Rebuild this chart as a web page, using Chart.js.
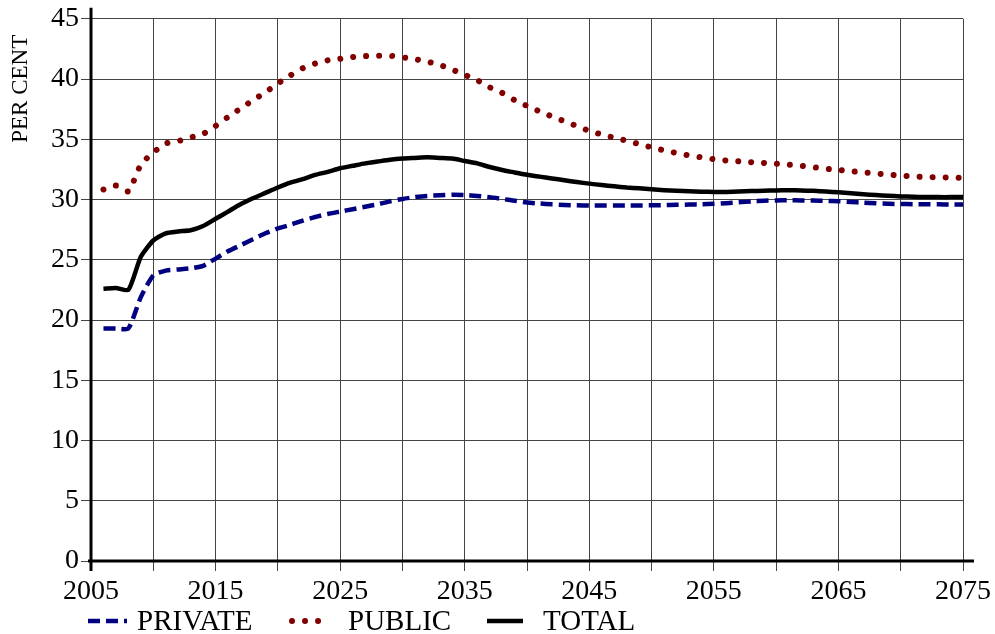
<!DOCTYPE html>
<html>
<head>
<meta charset="utf-8">
<title>Pension coverage, per cent</title>
<script src="https://cdn.jsdelivr.net/npm/chart.js@4.4.1/dist/chart.umd.min.js"></script>
<style>
  html, body { margin: 0; padding: 0; background: #ffffff; }
  #wrap { width: 995px; height: 634px; position: relative; }
</style>
</head>
<body>
<div id="wrap"><canvas id="c" width="995" height="634"></canvas></div>
<script>
// Projection years (annual)
const years = [
  2006, 2007, 2008, 2009, 2010, 2011, 2012, 2013, 2014, 2015,
  2016, 2017, 2018, 2019, 2020, 2021, 2022, 2023, 2024, 2025,
  2026, 2027, 2028, 2029, 2030, 2031, 2032, 2033, 2034, 2035,
  2036, 2037, 2038, 2039, 2040, 2041, 2042, 2043, 2044, 2045,
  2046, 2047, 2048, 2049, 2050, 2051, 2052, 2053, 2054, 2055,
  2056, 2057, 2058, 2059, 2060, 2061, 2062, 2063, 2064, 2065,
  2066, 2067, 2068, 2069, 2070, 2071, 2072, 2073, 2074, 2075
];

// Per cent values by series
const privateShare = [
  19.3, 19.3, 19.3, 21.9, 23.7, 24.1, 24.2, 24.3, 24.5, 25.1,
  25.7, 26.2, 26.7, 27.2, 27.6, 27.9, 28.25, 28.55, 28.8, 29.0,
  29.2, 29.4, 29.6, 29.85, 30.05, 30.2, 30.3, 30.35, 30.4, 30.38,
  30.3, 30.2, 30.05, 29.9, 29.75, 29.67, 29.6, 29.55, 29.52, 29.5,
  29.5, 29.5, 29.5, 29.51, 29.52, 29.54, 29.56, 29.58, 29.61, 29.64,
  29.7, 29.77, 29.84, 29.9, 29.93, 29.94, 29.93, 29.92, 29.89, 29.86,
  29.8, 29.74, 29.69, 29.65, 29.63, 29.61, 29.6, 29.6, 29.59, 29.59
];

const publicShare = [
  30.83, 31.16, 30.69, 32.9, 33.9, 34.65, 34.85, 35.15, 35.45, 36.1,
  36.85, 37.55, 38.24, 38.9, 39.63, 40.3, 40.9, 41.29, 41.55, 41.68,
  41.82, 41.9, 41.94, 41.93, 41.8, 41.65, 41.44, 41.17, 40.78, 40.35,
  39.9, 39.32, 38.85, 38.25, 37.77, 37.32, 36.9, 36.5, 36.1, 35.7,
  35.4, 35.13, 34.88, 34.6, 34.33, 34.08, 33.86, 33.66, 33.5, 33.35,
  33.24, 33.17, 33.1, 33.04, 32.97, 32.89, 32.8, 32.68, 32.55, 32.45,
  32.35, 32.25, 32.17, 32.06, 31.99, 31.92, 31.87, 31.85, 31.82, 31.8
];

const totalShare = [
  22.6, 22.66, 22.5, 25.25, 26.6, 27.2, 27.35, 27.45, 27.8, 28.4,
  29.0, 29.6, 30.1, 30.55, 31.0, 31.4, 31.7, 32.05, 32.3, 32.6,
  32.8, 33.0, 33.15, 33.3, 33.4, 33.45, 33.5, 33.45, 33.4, 33.2,
  33.0, 32.7, 32.45, 32.25, 32.05, 31.9, 31.75, 31.6, 31.45, 31.32,
  31.2, 31.1, 31.0, 30.93, 30.85, 30.78, 30.72, 30.68, 30.65, 30.63,
  30.63, 30.66, 30.7, 30.73, 30.76, 30.77, 30.75, 30.72, 30.66, 30.6,
  30.52, 30.44, 30.37, 30.31, 30.26, 30.23, 30.21, 30.2, 30.2, 30.2
];

const seriesNames = ['PRIVATE', 'PUBLIC', 'TOTAL'];
const yAxisTitle = 'PER CENT';
const xMin = 2005, xMax = 2075, xStep = 5, xLabelEvery = 10;
const yMin = 0, yMax = 45, yStep = 5;

const SERIF = '"Liberation Serif", "Times New Roman", Times, serif';

const toPoints = vals => years.map((yr, i) => ({ x: yr, y: vals[i] }));

// Axis lines that run a little past the plot frame, the rotated unit label
// and a hand-laid legend strip under the year labels.
const decorations = {
  id: 'decorations',
  afterDatasetsDraw(chart) {
    const ctx = chart.ctx;
    const a = chart.chartArea;
    ctx.save();
    ctx.strokeStyle = '#000';
    ctx.lineWidth = 3;
    ctx.setLineDash([]);
    ctx.beginPath();
    ctx.moveTo(a.left, a.top - 11);
    ctx.lineTo(a.left, a.bottom + 10);
    ctx.stroke();
    ctx.beginPath();
    ctx.moveTo(a.left - 3, a.bottom);
    ctx.lineTo(a.right + 11, a.bottom);
    ctx.stroke();
    ctx.restore();
  },
  afterDraw(chart) {
    const ctx = chart.ctx;
    const a = chart.chartArea;

    // unit label
    ctx.save();
    ctx.fillStyle = '#000';
    ctx.font = '23px ' + SERIF;
    ctx.textAlign = 'center';
    ctx.textBaseline = 'middle';
    ctx.translate(21, a.top + 70);
    ctx.rotate(-Math.PI / 2);
    ctx.fillText(yAxisTitle, 0, 0);
    ctx.restore();

    // legend
    const ly = a.bottom + 60;
    const layout = [
      { from: a.left - 3, to: a.left + 36, text: a.left + 46 },
      { from: a.left + 201, to: a.left + 230, text: a.left + 257 },
      { from: a.left + 396, to: a.left + 432, text: a.left + 452 }
    ];
    chart.data.datasets.forEach((ds, i) => {
      const L = layout[i];
      ctx.save();
      ctx.strokeStyle = ds.borderColor;
      ctx.lineWidth = ds.borderWidth;
      ctx.lineCap = ds.borderCapStyle || 'butt';
      ctx.setLineDash(ds.borderDash || []);
      ctx.beginPath();
      ctx.moveTo(L.from, ly);
      ctx.lineTo(L.to, ly);
      ctx.stroke();
      ctx.restore();

      ctx.save();
      ctx.fillStyle = '#000';
      ctx.font = '29px ' + SERIF;
      ctx.textAlign = 'left';
      ctx.textBaseline = 'middle';
      ctx.fillText(ds.label, L.text, ly + 1);
      ctx.restore();
    });
  }
};

new Chart(document.getElementById('c'), {
  type: 'line',
  data: {
    datasets: [
      {
        label: seriesNames[0],
        data: toPoints(privateShare),
        borderColor: '#000080',
        borderWidth: 4.5,
        borderDash: [12, 6],
        borderCapStyle: 'butt',
        pointRadius: 0,
        tension: 0.2,
        fill: false
      },
      {
        label: seriesNames[1],
        data: toPoints(publicShare),
        borderColor: '#800000',
        borderWidth: 6,
        borderDash: [0.01, 13],
        borderCapStyle: 'round',
        pointRadius: 0,
        tension: 0.2,
        fill: false
      },
      {
        label: seriesNames[2],
        data: toPoints(totalShare),
        borderColor: '#000000',
        borderWidth: 4.5,
        borderCapStyle: 'butt',
        pointRadius: 0,
        tension: 0.2,
        fill: false
      }
    ]
  },
  options: {
    responsive: false,
    animation: false,
    devicePixelRatio: 1,
    layout: { padding: { left: 0, right: 32, top: 17, bottom: 0 } },
    plugins: {
      legend: { display: false },
      tooltip: { enabled: false },
      title: { display: false }
    },
    scales: {
      x: {
        type: 'linear',
        min: xMin,
        max: xMax,
        border: { display: false },
        grid: { color: '#444', lineWidth: 1, tickLength: 10, drawTicks: true },
        ticks: {
          stepSize: xStep,
          autoSkip: false,
          maxRotation: 0,
          padding: 4,
          color: '#000',
          font: { family: SERIF, size: 28 },
          callback: v => ((v - xMin) % xLabelEvery === 0 ? String(v) : '')
        },
        afterFit: s => { s.height = 73; }
      },
      y: {
        min: yMin,
        max: yMax,
        border: { display: false },
        grid: { color: '#444', lineWidth: 1, tickLength: 10, drawTicks: true },
        ticks: {
          stepSize: yStep,
          padding: 2,
          color: '#000',
          font: { family: SERIF, size: 28 }
        },
        afterFit: s => { s.width = 91; }
      }
    }
  },
  plugins: [decorations]
});
</script>
</body>
</html>
